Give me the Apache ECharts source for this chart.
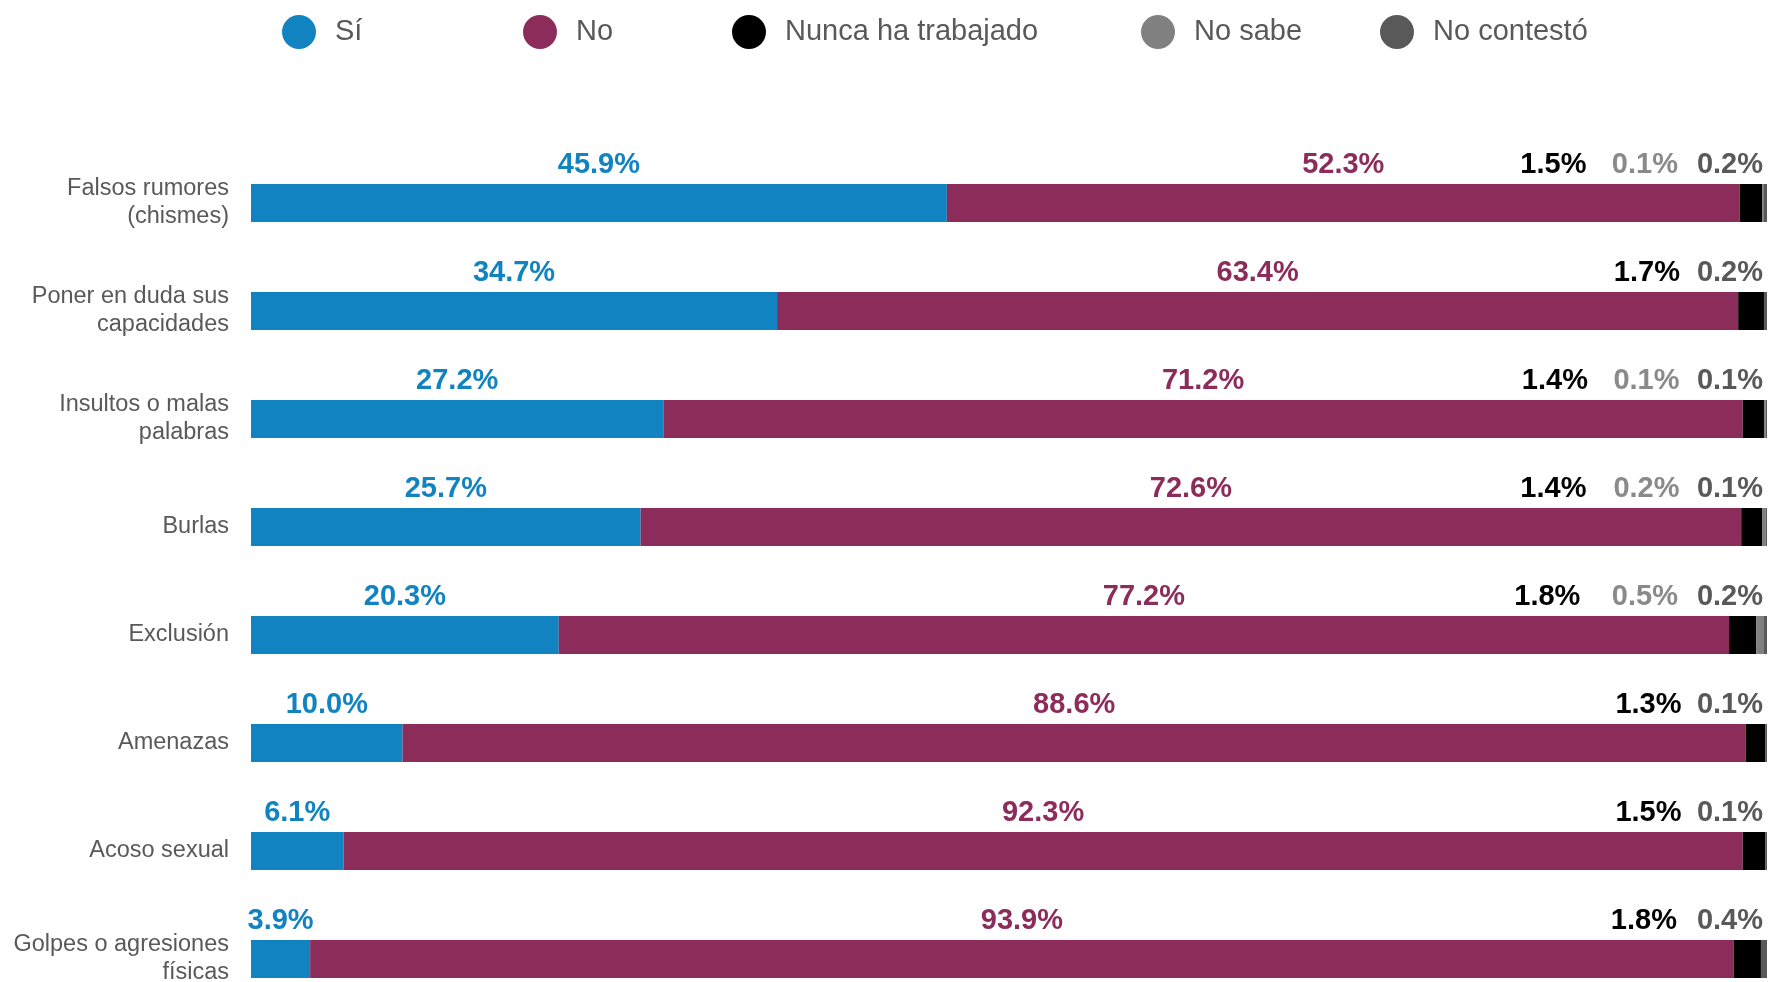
<!DOCTYPE html>
<html>
<head>
<meta charset="utf-8">
<script src="https://cdn.jsdelivr.net/npm/echarts@6/dist/echarts.min.js"></script>
<style>
  html, body { margin: 0; padding: 0; background: #fff; }
  #chart { width: 1769px; height: 982px; }
</style>
</head>
<body>
<div id="chart"></div>
<script>
// categories, top to bottom
var categories = [
  'Falsos rumores\n(chismes)',
  'Poner en duda sus\ncapacidades',
  'Insultos o malas\npalabras',
  'Burlas',
  'Exclusión',
  'Amenazas',
  'Acoso sexual',
  'Golpes o agresiones\nfísicas'
];
var seriesNames = ['Sí', 'No', 'Nunca ha trabajado', 'No sabe', 'No contestó'];
var si = [45.9, 34.7, 27.2, 25.7, 20.3, 10.0, 6.1, 3.9];
var no = [52.3, 63.4, 71.2, 72.6, 77.2, 88.6, 92.3, 93.9];
var nunca = [1.5, 1.7, 1.4, 1.4, 1.8, 1.3, 1.5, 1.8];
var noSabe = [0.1, 0, 0.1, 0.2, 0.5, 0, 0, 0];
var noContesto = [0.2, 0.2, 0.1, 0.1, 0.2, 0.1, 0.1, 0.4];

var colors = ['#1283c1', '#8c2c5b', '#000000', '#808080', '#595959'];
var labelColors = ['#1283c1', '#8c2c5b', '#000000', '#8a8a8a', '#595959'];

var chart = echarts.init(document.getElementById('chart'));

var pct = function (p) {
  return p.value > 0 ? p.value.toFixed(1) + '%' : '';
};

var labelFont = {
  fontFamily: 'Liberation Sans, Arial, sans-serif',
  fontWeight: 'bold',
  fontSize: 29
};

// small segments: labels pushed to the right end
var rightLabel = function (i, dx) {
  return Object.assign({
    show: true,
    position: ['100%', 0],
    align: 'right',
    verticalAlign: 'bottom',
    offset: [dx, -5],
    color: labelColors[i],
    formatter: pct
  }, labelFont);
};

var nuncaData = nunca.map(function (v, k) {
  return {
    value: v,
    label: { offset: [noSabe[k] > 0 ? -176 : -84, -5] }
  };
});

var series = [
  { name: seriesNames[0], data: si },
  { name: seriesNames[1], data: no },
  { name: seriesNames[2], data: nuncaData },
  { name: seriesNames[3], data: noSabe },
  { name: seriesNames[4], data: noContesto }
].map(function (s, i) {
  var label;
  if (i < 2) {
    label = Object.assign({
      show: true, position: 'top', distance: 5,
      color: labelColors[i], formatter: pct
    }, labelFont);
  } else if (i === 2) {
    label = rightLabel(i, -84);
  } else if (i === 3) {
    label = rightLabel(i, -86);
  } else {
    label = rightLabel(i, -4);
  }
  return {
    name: s.name,
    type: 'bar',
    stack: 'total',
    barWidth: 38,
    itemStyle: { color: colors[i] },
    label: label,
    data: s.data
  };
});

// one legend per item, placed like the original
var legendLefts = [277, 518, 727, 1136, 1375];
var legends = seriesNames.map(function (n, i) {
  return {
    data: [n],
    left: legendLefts[i],
    top: 10,
    icon: 'circle',
    itemWidth: 34,
    itemHeight: 34,
    selectedMode: false,
    textStyle: {
      fontFamily: 'Liberation Sans, Arial, sans-serif',
      fontSize: 29,
      color: '#595959',
      padding: [0, 0, 0, 14]
    }
  };
});

var option = {
  backgroundColor: '#ffffff',
  animation: false,
  legend: legends,
  grid: { left: 251, right: 2, top: 149, height: 864, outerBoundsMode: 'none' },
  xAxis: {
    type: 'value',
    min: 0,
    max: 100,
    show: false
  },
  yAxis: {
    type: 'category',
    inverse: true,
    data: categories,
    axisLine: { show: false },
    axisTick: { show: false },
    splitLine: { show: false },
    axisLabel: {
      margin: 22,
      fontFamily: 'Liberation Sans, Arial, sans-serif',
      fontSize: 23.5,
      lineHeight: 28,
      color: '#595959',
      align: 'right'
    }
  },
  series: series
};

chart.setOption(option);
</script>
</body>
</html>
